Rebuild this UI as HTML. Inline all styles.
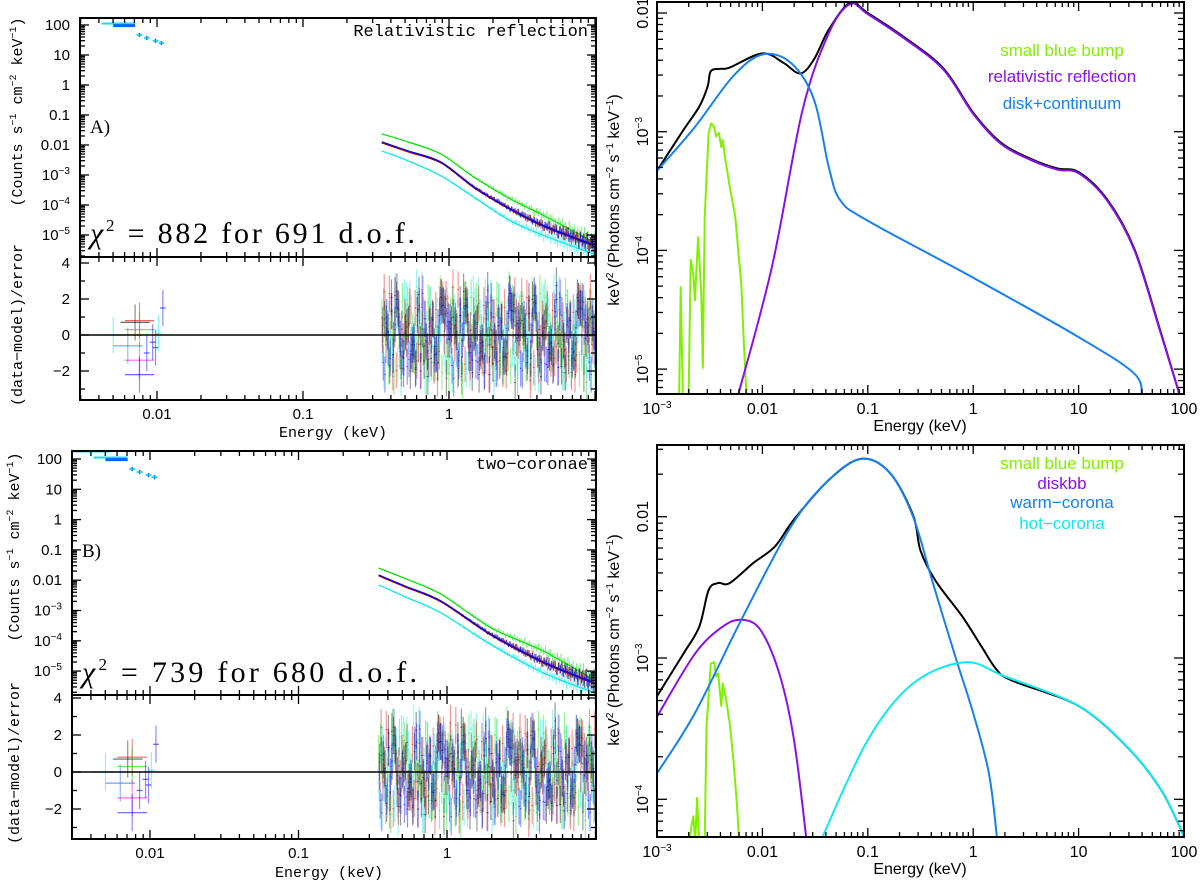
<!DOCTYPE html>
<html><head><meta charset="utf-8"><style>
html,body{margin:0;padding:0;background:#fff;}
svg{display:block;}
text{font-family:"Liberation Sans",sans-serif;}
.mono{font-family:"Liberation Mono",monospace;}
.serif{font-family:"Liberation Serif",serif;}
</style></head><body>
<svg id="fig" width="1200" height="882" viewBox="0 0 1200 882" xmlns="http://www.w3.org/2000/svg"></svg>
<script>
// ---------- DATA (log10 units) ----------
const trBlueE  = [-3,-2.64,-2.28,-2,-1.73,-1.51,-1.37,-1.26,-1,0,1,1.53,1.6];
const trBlueF  = [-3.33,-2.96,-2.535,-2.35,-2.42,-2.73,-3.30,-3.58,-3.75,-4.23,-4.73,-5.04,-5.25];
const trPurpE  = [-2.24,-1.91,-1.62,-1.37,-1.17,-1,-0.645,-0.28,0,0.26,0.55,0.80,1,1.27,1.53,1.78,1.97];
const trPurpF  = [-5.25,-4.14,-2.82,-2.17,-1.925,-2.01,-2.22,-2.48,-2.85,-3.10,-3.24,-3.32,-3.35,-3.58,-4.0,-4.70,-5.25];
const trBlackE = [-3,-2.76,-2.6,-2.52,-2.49,-2.4,-2.31,-2,-1.8,-1.64,-1.51,-1.37,-1.17,-1,-0.645,-0.28,0,0.26,0.55,0.80,1,1.27,1.53,1.78,1.97];
const trBlackF = [-3.33,-3.0,-2.79,-2.62,-2.49,-2.47,-2.46,-2.34,-2.42,-2.51,-2.39,-2.14,-1.915,-2.0,-2.21,-2.47,-2.84,-3.09,-3.23,-3.31,-3.34,-3.57,-3.99,-4.69,-5.25];
const trGreenE = [-2.79,-2.775,-2.754,-2.70,-2.68,-2.656,-2.64,-2.61,-2.58,-2.565,-2.547,-2.51,-2.486,-2.457,-2.44,-2.413,-2.39,-2.377,-2.35,-2.31,-2.257,-2.23,-2.20,-2.18,-2.15];
const trGreenF = [-5.25,-4.31,-5.25,-5.25,-4.08,-4.20,-4.42,-3.89,-4.37,-4.99,-3.72,-3.01,-2.93,-2.96,-3.04,-3.01,-3.13,-3.07,-3.24,-3.46,-3.72,-4.0,-4.28,-4.70,-5.25];
const brBlueE  = [-3,-2.64,-2.2,-1.73,-1.37,-1.06,-0.79,-0.57,-0.39,-0.17,0,0.15,0.23];
const brBlueF  = [-3.816,-3.39,-2.73,-2.07,-1.74,-1.59,-1.69,-2.0,-2.45,-2.99,-3.39,-3.82,-4.3];
const brPurpE  = [-3,-2.64,-2.38,-2.2,-2.02,-1.84,-1.70,-1.58];
const brPurpF  = [-3.415,-2.97,-2.78,-2.73,-2.80,-3.11,-3.58,-4.3];
const brCyanE  = [-1.45,-1.0,-0.57,-0.08,0.30,1,1.46,1.78,2.0];
const brCyanF  = [-4.3,-3.58,-3.18,-3.03,-3.13,-3.34,-3.63,-3.93,-4.26];
const brBlackE = [-3,-2.75,-2.6,-2.51,-2.42,-2.31,-2.09,-1.88,-1.70,-1.37,-1.06,-0.79,-0.57,-0.5,-0.36,-0.1,0.08,0.22,0.37,1,1.46,1.78,2.0];
const brBlackF = [-3.27,-2.97,-2.78,-2.52,-2.47,-2.47,-2.33,-2.21,-2.02,-1.74,-1.59,-1.69,-1.99,-2.24,-2.45,-2.71,-2.92,-3.08,-3.16,-3.34,-3.63,-3.93,-4.26];
const brGreenE = [-2.69,-2.674,-2.656,-2.638,-2.62,-2.60,-2.547,-2.53,-2.49,-2.457,-2.44,-2.42,-2.39,-2.377,-2.35,-2.31,-2.275,-2.24,-2.22];
const brGreenF = [-4.3,-4.19,-4.12,-4.3,-3.99,-4.3,-4.3,-3.49,-3.04,-3.03,-3.13,-3.11,-3.34,-3.18,-3.27,-3.46,-3.72,-4.05,-4.3];
const lE = [-0.46,-0.28,-0.055,0.18,0.41,0.64,0.99];
const tlGreen = [-1.63,-1.9,-2.3,-3.1,-3.77,-4.33,-5.23];
const tlBlack = [-1.9,-2.2,-2.57,-3.43,-4.1,-4.67,-5.33];
const tlCyan  = [-2.2,-2.53,-3.03,-3.77,-4.5,-5.0,-5.63];
const blE = [-0.46,-0.28,-0.04,0.30,0.65,0.98];
const blGreen = [-1.6,-1.95,-2.46,-3.58,-4.34,-5.26];
const blBlack = [-1.83,-2.2,-2.69,-3.8,-4.7,-5.36];
const blCyan  = [-2.16,-2.55,-3.08,-4.14,-5.06,-5.69];
const res1 = [0.3,-1.2,0.8,-2.1,1.5,-0.4,0.9,-1.6,2.2,-0.7,0.1,1.3,-1.9,0.6,-0.3,1.8,-1.1,0.4,-2.4,1.0,0.2,-0.8,1.6,-1.4,0.7,-0.2,2.5,-1.7,0.5,-0.9,1.2,-2.0,0.8,-0.5,1.9,-1.3,0.3,2.1,-1.0,0.6];
const res2 = [-0.5,0.9,-1.8,1.4,-0.2,2.0,-1.3,0.4,-0.9,1.7,-2.2,0.6,1.1,-0.6,2.3,-1.5,0.2,-1.0,1.6,-0.3,-2.0,1.2,0.5,-1.7,2.1,-0.8,0.0,1.4,-2.3,0.9,-0.4,1.8,-1.2,2.4,-0.7,0.3,-1.9,1.0,-0.1,1.5];
const res3 = [1.1,-0.3,0.5,-1.4,2.1,-1.9,0.2,1.6,-0.8,-2.3,0.9,-0.1,1.8,-1.2,0.4,-0.6,2.2,-1.6,0.7,1.3,-0.9,0.1,-2.1,1.5,-0.4,1.9,-1.1,0.6,-1.8,2.0,0.3,-0.7,1.4,-2.4,0.8,-0.2,1.7,-1.3,2.3,-0.5];
const res4 = [-1.3,0.7,-0.2,1.9,-0.9,0.4,-2.0,1.2,0.0,-1.1,1.6,-0.5,-1.7,2.1,-0.3,0.8,-1.4,1.5,-0.6,-2.2,1.0,0.6,-1.2,0.2,1.7,-1.8,0.9,-0.4,2.2,-1.0,-1.6,0.5,1.3,-0.8,-2.1,1.1,0.4,-1.5,0.7,1.8];
const uvE = [-2.12,-2.07,-2.01,-1.97];
const uvF = [1.67,1.57,1.47,1.4];
const uvResE = [-2.3,-2.2,-2.15,-2.12,-2.12,-2.12,-2.12,-2.07,-2.03,-2.01,-1.99,-1.96];
const uvResV = [0.0,-0.6,0.7,0.8,0.3,-1.4,-2.2,-1.0,-0.4,-0.7,0.1,1.5];

// ---------- helpers ----------
const NS="http://www.w3.org/2000/svg";
const svg=document.getElementById('fig');
function mk(tag,attrs,parent){const e=document.createElementNS(NS,tag);for(const k in attrs)e.setAttribute(k,attrs[k]);(parent||svg).appendChild(e);return e;}
function line(x1,y1,x2,y2,st,sw,p,op){return mk('line',{x1,y1,x2,y2,stroke:st,'stroke-width':sw||1,opacity:op==null?1:op},p);}
function poly(xs,ys,fx,fy,col,sw,p,smooth){
  const P=xs.map((x,i)=>[fx(x),fy(ys[i])]);
  let d='M'+P[0][0].toFixed(1)+','+P[0][1].toFixed(1);
  for(let i=0;i<P.length-1;i++){
    if(!smooth){d+='L'+P[i+1][0].toFixed(1)+','+P[i+1][1].toFixed(1);continue;}
    const p0=P[i-1]||P[i],p1=P[i],p2=P[i+1],p3=P[i+2]||P[i+1];
    const c1=[p1[0]+(p2[0]-p0[0])/6,p1[1]+(p2[1]-p0[1])/6],c2=[p2[0]-(p3[0]-p1[0])/6,p2[1]-(p3[1]-p1[1])/6];
    d+='C'+c1[0].toFixed(1)+','+c1[1].toFixed(1)+' '+c2[0].toFixed(1)+','+c2[1].toFixed(1)+' '+p2[0].toFixed(1)+','+p2[1].toFixed(1);
  }
  return mk('path',{d,fill:'none',stroke:col,'stroke-width':sw||2,'stroke-linejoin':'round'},p);}
function txt(x,y,s,size,anchor,cls,p){const t=mk('text',{x,y,'font-size':size,'text-anchor':anchor||'middle'},p);if(cls)t.setAttribute('class',cls);t.innerHTML=s;return t;}
function interp(xs,ys,x){if(x<=xs[0])return ys[0];for(let i=1;i<xs.length;i++)if(x<=xs[i]){const t=(x-xs[i-1])/(xs[i]-xs[i-1]);return ys[i-1]+t*(ys[i]-ys[i-1]);}return ys[ys.length-1];}
function clip(id,x,y,w,h){const d=mk('clipPath',{id});mk('rect',{x,y,width:w,height:h},d);}
function logTicksX(fx,lo,hi,y,dir,p){for(let d=Math.floor(lo);d<=Math.ceil(hi);d++)for(let m=1;m<10;m++){const v=d+Math.log10(m);if(v<lo||v>hi)continue;const L=m==1?9:5;line(fx(v),y,fx(v),y+dir*L,'#000',1.3,p);}}
function logTicksY(fy,lo,hi,x,dir,p,maj,mn){for(let d=Math.floor(lo);d<=Math.ceil(hi);d++)for(let m=1;m<10;m++){const v=d+Math.log10(m);if(v<lo||v>hi)continue;const L=m==1?(maj||9):(mn||5);line(x,fy(v),x+dir*L,fy(v),'#000',1.3,p);}}
const sup=(s)=>'10<tspan dy="-6" font-size="10">'+s+'</tspan>';

function leftPanel(o){
  const g=mk('g',{});
  const fx=v=>o.x0+o.dx*v, fy=v=>o.y2+(2-v)*o.dy, fr=v=>o.y0r-o.ry*v;
  const lo=(o.L-o.x0)/o.dx, hi=(o.R-o.x0)/o.dx;
  clip(o.name+'-cs',o.L,o.T,o.R-o.L,o.D-o.T);clip(o.name+'-cr',o.L,o.D,o.R-o.L,o.B-o.D);
  const gs=mk('g',{'clip-path':'url(#'+o.name+'-cs)'},g);
  const gr=mk('g',{'clip-path':'url(#'+o.name+'-cr)'},g);
  const N=130, M=res1.length, st=(o.E[o.E.length-1]+0.08-o.E[0])/N;
  const sets=[[o.G,'#00e000',res3,0],[o.C,'#00e8e8',res2,11],[o.K,'#e00000',res2,0],[o.K,'#000',res1,0],[o.K,'#0000ff',res4,0]];
  sets.forEach((s,si)=>{
    for(let i=0;i<N;i++){
      const e=o.E[0]+(i+si*0.2)*st, m=interp(o.E,s[0],e);
      const sc=0.01+0.22*Math.pow(i/N,2.5);
      const r0=s[2][(i+s[3]+si*3)%M];
      const v=m+r0*sc*0.4;
      line(fx(e),fy(v-sc),fx(e),fy(v+sc),s[1],1,gs,0.55);
      const r=s[2][(i*7+si*13)%M]*(0.9+0.1*((i%3)));
      line(fx(e),fr(r-1),fx(e),fr(r+1),s[1],1.2,gr,0.4);
      line(fx(e-st/2),fr(r),fx(e+st/2),fr(r),s[1],1,gr,0.55);
    }
    poly(o.E,s[0].map(v=>v-(si==2?0.03:0)),fx,fy,s[1],1.2,gs,true);
  });
  line(o.L,fy(2.25),fx(-2.27),fy(2.25),'#00aaff',2,gs);
  line(fx(-2.38),fy(2.05),fx(-2.15),fy(2.05),'#00e8e8',2,gs);
  line(fx(-2.3),fy(1.98),fx(-2.15),fy(1.98),'#1060ff',3,gs);
  for(let i=0;i<uvE.length;i++){line(fx(uvE[i]),fy(uvF[i]-0.07),fx(uvE[i]),fy(uvF[i]+0.07),'#1060ff',1.5,gs);line(fx(uvE[i]-0.02),fy(uvF[i]),fx(uvE[i]+0.02),fy(uvF[i]),'#00c8e8',1.5,gs);}
  const uvc=['#00e8e8','#1060ff','#000','#e00000','#00e000','#ff00ff','#0000ff','#0000ff','#0000ff','#0000ff','#00e8e8','#0000ff'];
  for(let i=0;i<uvResE.length;i++){const w=i<7?0.1:0.02;line(fx(uvResE[i]-w),fr(uvResV[i]),fx(uvResE[i]+w),fr(uvResV[i]),uvc[i],1.2,gr,0.6);line(fx(uvResE[i]),fr(uvResV[i]-1),fx(uvResE[i]),fr(uvResV[i]+1),uvc[i],1.2,gr,0.45);}
  line(o.L,fr(0),o.R,fr(0),'#000',1.6,g);
  mk('rect',{x:o.L,y:o.T,width:o.R-o.L,height:o.B-o.T,fill:'none',stroke:'#000','stroke-width':2},g);
  line(o.L,o.D,o.R,o.D,'#000',2,g);
  logTicksX(fx,lo,hi,o.B,-1,g);logTicksX(fx,lo,hi,o.T,1,g);logTicksX(fx,lo,hi,o.D,-1,g);logTicksX(fx,lo,hi,o.D,1,g);
  const ylo=2-(o.D-o.y2)/o.dy, yhi=2+(o.y2-o.T)/o.dy;
  logTicksY(fy,ylo,yhi,o.L,1,g,9,5);logTicksY(fy,ylo,yhi,o.R,-1,g,9,5);
  for(let v=-3;v<=4;v++){const L=v%2==0?9:5;line(o.L,fr(v),o.L+L,fr(v),'#000',1.3,g);line(o.R,fr(v),o.R-L,fr(v),'#000',1.3,g);}
  const yl=['100','10','1','0.1','0.01',sup('−3'),sup('−4'),sup('−5')];
  yl.forEach((s,i)=>{const t=txt(o.L-10,fy(2-i)+5,s,15,'end',null,g);});
  [4,2,0,-2].forEach(v=>{const t=txt(o.L-10,fr(v)+5,v<0?'−'+(-v):''+v,15,'end',null,g);});
  [[-2,'0.01'],[-1,'0.1'],[0,'1']].forEach(a=>{const t=txt(fx(a[0]),o.B+19,a[1],15,'middle',null,g);});
  const xt=txt((o.L+o.R)/2-5,o.xlabY,'Energy (keV)',15,'middle','mono',g);
  const y1=txt(0,0,'(Counts s<tspan dy="-6" font-size="10">−1</tspan><tspan dy="6"> cm</tspan><tspan dy="-6" font-size="10">−2</tspan><tspan dy="6"> keV</tspan><tspan dy="-6" font-size="10">−1</tspan><tspan dy="6">)</tspan>',15,'middle','mono',g);
  y1.setAttribute('transform','translate('+(o.ylx)+','+o.ycy+') rotate(-90)');
  const y2=txt(0,0,'(data−model)/error',15,'middle','mono',g);
  y2.setAttribute('transform','translate('+(o.ylx)+','+o.rcy+') rotate(-90)');
  const ti=txt(o.R-8,o.T+18,o.title,17,'end','mono',g);
  const lb=txt(o.L+10,o.labY,o.lab,19,'start','serif',g);
  const ch=txt(o.L+10,o.chiY,'<tspan font-style="italic">χ</tspan><tspan dy="-12" font-size="17">2</tspan><tspan dy="12"> = '+o.chi+'</tspan>',30,'start','serif',g);
  ch.setAttribute('textLength',o.chiW);ch.setAttribute('lengthAdjust','spacing');
}
leftPanel({name:'panel-a-relativistic',L:80,R:596,T:18,D:257,B:400,x0:449,dx:146,y2:25,dy:30,y0r:335,ry:18,
  E:lE,G:tlGreen,K:tlBlack,C:tlCyan,title:'Relativistic reflection',lab:'A)',labY:133,chi:'882 for 691 d.o.f.',chiY:243,chiW:325,xlabY:437,ylx:22,ycy:112,rcy:325});
leftPanel({name:'panel-b-two-coronae',L:72,R:596,T:451,D:695,B:839,x0:447,dx:148.5,y2:459,dy:30.3,y0r:772,ry:18.5,
  E:blE,G:blGreen,K:blBlack,C:blCyan,title:'two−coronae',lab:'B)',labY:557,chi:'739 for 680 d.o.f.',chiY:682,chiW:335,xlabY:877,ylx:19,ycy:547,rcy:763});

function rightPanel(o){
  const g=mk('g',{});
  const L=657,R=1184,fx=v=>L+(v+3)*105.4, fy=v=>o.y2+(-2-v)*o.dy;
  clip(o.name+'-c',L,o.T,R-L,o.B-o.T);
  const gc=mk('g',{'clip-path':'url(#'+o.name+'-c)'},g);
  o.series.forEach(s=>{const p=poly(s[0],s[1],fx,fy,s[2],s[3]||2,gc,s[5]);});
  mk('rect',{x:L,y:o.T,width:R-L,height:o.B-o.T,fill:'none',stroke:'#000','stroke-width':2},g);
  logTicksX(fx,-3,2,o.B,-1,g);logTicksX(fx,-3,2,o.T,1,g);
  const lo=-2-(o.B-o.y2)/o.dy, hi=-2+(o.y2-o.T)/o.dy;
  logTicksY(fy,lo,hi,L,1,g,10,6);logTicksY(fy,lo,hi,R,-1,g,10,6);
  [['10<tspan dy="-6" font-size="10">−3</tspan>',-3],['0.01',-2],['0.1',-1],['1',0],['10',1],['100',2]].forEach(a=>{const t=txt(fx(a[1]),o.B+20,a[0],16,'middle',null,g);});
  o.yt.forEach(a=>{const t=txt(0,0,a[0],16,'middle',null,g);t.setAttribute('transform','translate(648,'+fy(a[1])+') rotate(-90)');});
  const xt=txt(920,o.B+37,'Energy (keV)',16,'middle',null,g);
  const yt=txt(0,0,'keV<tspan dy="-6" font-size="10">2</tspan><tspan dy="6"> (Photons cm</tspan><tspan dy="-6" font-size="10">−2</tspan><tspan dy="6"> s</tspan><tspan dy="-6" font-size="10">−1</tspan><tspan dy="6"> keV</tspan><tspan dy="-6" font-size="10">−1</tspan><tspan dy="6">)</tspan>',16,'middle',null,g);
  yt.setAttribute('transform','translate(619,'+o.ycy+') rotate(-90)');
  o.legend.forEach(a=>{const t=txt(1062,a[1],a[0],17,'middle',null,g);t.setAttribute('fill',a[2]);});
}
const sp='10<tspan dy="-6" font-size="10">';
rightPanel({name:'panel-relativistic-model',T:2,B:394,y2:13,dy:118.7,ycy:200,
  series:[[trGreenE,trGreenF,'#80f000',2,'small-blue-bump-line',false],[trBlackE,trBlackF,'#000',2,'total-model-line',true],[trPurpE,trPurpF,'#8a10e8',2,'relativistic-reflection-line',true],[trBlueE,trBlueF,'#1580f0',2,'disk-continuum-line',true]],
  yt:[['0.01',-2],[sp+'−3</tspan>',-3],[sp+'−4</tspan>',-4],[sp+'−5</tspan>',-5]],
  legend:[['small blue bump',56,'#80f000'],['relativistic reflection',82,'#8a10e8'],['disk+continuum',109,'#1580f0']]});
rightPanel({name:'panel-two-coronae-model',T:445,B:837,y2:516.7,dy:141.3,ycy:640,
  series:[[brGreenE,brGreenF,'#80f000',2,'small-blue-bump-line',false],[brBlackE,brBlackF,'#000',2,'total-model-line',true],[brPurpE,brPurpF,'#8a10e8',2,'diskbb-line',true],[brBlueE,brBlueF,'#1580f0',2,'warm-corona-line',true],[brCyanE,brCyanF,'#10e8f0',2,'hot-corona-line',true]],
  yt:[['0.01',-2],[sp+'−3</tspan>',-3],[sp+'−4</tspan>',-4]],
  legend:[['small blue bump',469,'#80f000'],['diskbb',489,'#8a10e8'],['warm−corona',508,'#1580f0'],['hot−corona',529,'#10e8f0']]});
</script>
</body></html>
